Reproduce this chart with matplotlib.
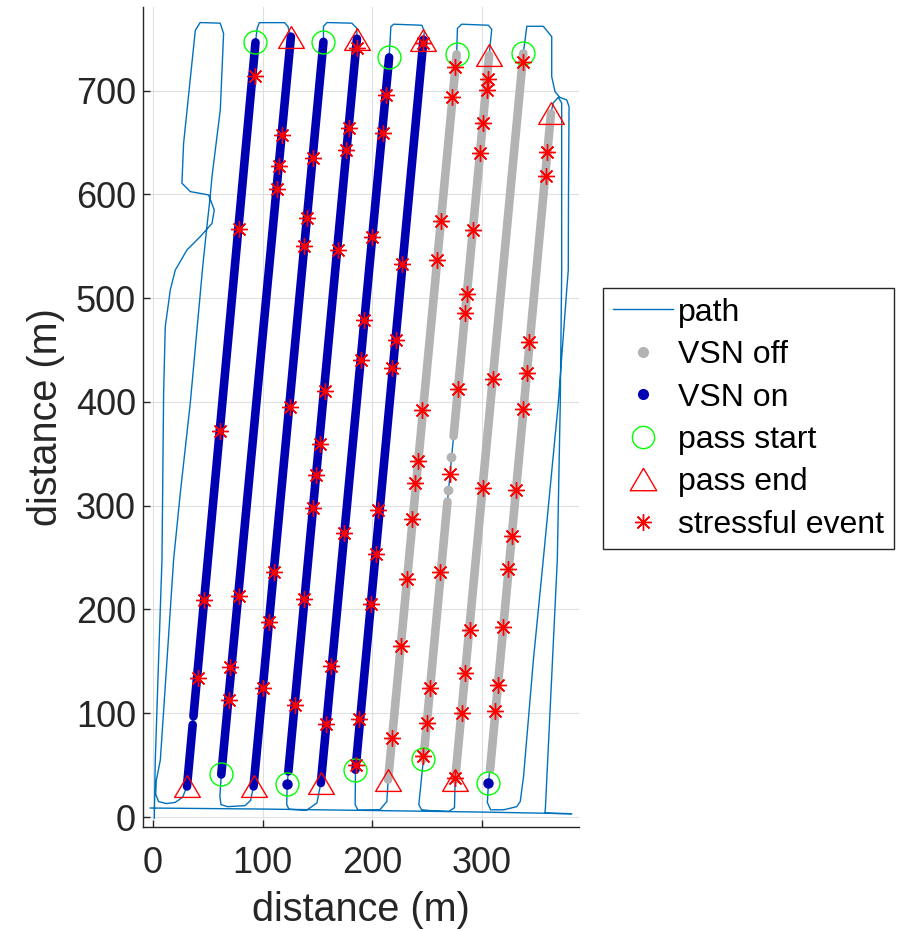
import matplotlib
matplotlib.use("Agg")
import matplotlib.pyplot as plt
from matplotlib.lines import Line2D

plt.rcParams['font.family'] = ['Liberation Sans', 'DejaVu Sans']

# vehicle track (m)
path_x = [1.2, 2.1, 5.1, 8.2, 9.7, 11.2, 15.8, 20.3, 31, 43.1, 53.8, 55.9, 50.7, 34, 26.4, 27.9, 38.6, 43, 61.3, 64.4,
          61.4, 53.8, 52.2, 49.2, 45.5, 34, 24.9, 18.8, 12.8, 6.7, 3, 2.5, 5, 12, 20, 27, 31,
          93.5, 95, 97, 120, 123, 125.8,
          62.3, 61, 62, 68, 84, 89, 91.7,
          155.5, 155.5, 158.8, 181.4, 186, 186,
          122.4, 122, 124, 140, 149.5, 153.1,
          215.4, 217, 219.6, 245.2, 247.5, 246.7,
          184.7, 184.4, 187, 207, 213.3, 214.5,
          277, 277.7, 281.6, 306, 309, 306.6,
          246.7, 242.5, 245, 255, 270, 275, 275.6,
          337.8, 341, 356, 363.7, 363.7, 366.7, 371, 377.4, 379.5,
          379, 378.8, 377.4, 369.7, 356, 347, 342.4, 338, 335, 331.8, 320, 308, 305, 306,
          363, 365, 369.7, 372.8, 372.8, 371.5, 368.8, 363, 358, 357.6, 370, 382,
          300, 200, 100, -2.5]
path_y = [-1, 55, 151.5, 248, 408.5, 472.6, 508, 527, 546.5, 559.3, 572, 585, 599.5, 602.7, 610.8, 649, 758, 765.6, 765, 755,
          681.6, 617, 598, 569, 532, 398.8, 312, 248, 151.5, 55, 35, 22, 15, 13, 14, 19, 29.5,
          746.5, 760, 765.5, 765.5, 762, 752,
          41, 20, 12, 10, 11, 16, 29.5,
          747, 762, 765.6, 765, 760, 750,
          31.8, 12, 7.5, 6.5, 13.5, 32.8,
          732, 761.6, 764, 763, 757, 749,
          45.6, 12, 6.5, 7, 15, 36,
          735, 760, 764, 763, 759, 734,
          56, 12, 7, 6, 5.5, 9, 36,
          736, 762, 762, 752, 713.5, 699, 693.6, 691, 684.6,
          600, 527, 508, 399, 248, 151.6, 94, 39, 15, 10, 7, 7, 14, 32.8,
          678, 688, 693.6, 688, 527, 399, 248, 120, 10, 3.8, 3.4, 3.2,
          4.8, 6.3, 7.7, 8.7]

# VSN off (grey) pass segments
off_x = [[214.5, 277], [246.7, 268.6], [274.2, 306.6], [275.6, 337.8], [307.5, 363]]
off_y = [[36, 735], [56, 304], [367, 734], [36, 736], [46, 678]]
off_dot_x = [269.3, 272.2]
off_dot_y = [315, 347]

# VSN on (blue) pass segments
on_x = [[31, 36.2], [36.9, 93.5], [62.3, 125.8], [91.7, 155.5], [123.5, 186], [153.1, 215.4], [184.7, 246.7]]
on_y = [[29.5, 89], [97, 746.5], [41, 752], [29.5, 747], [44, 750], [32.8, 732], [45.6, 749]]
on_dot_x = [122.4, 306]
on_dot_y = [31.8, 32.8]

# pass start / end
start_x = [93.5, 62.3, 155.5, 122.4, 215.4, 184.7, 277, 246.7, 337.8, 306]
start_y = [746.5, 41, 747, 31.8, 732, 45.6, 735, 56, 736, 32.8]
end_x = [31, 125.8, 91.7, 186, 153.1, 246.7, 214.5, 306.6, 275.6, 363]
end_y = [29.5, 752, 29.5, 750, 32.8, 749, 36, 734, 36, 678]

# stressful events
stress_x = [93.5, 78, 61.3, 46.8, 40.7,
            117.6, 114.5, 113, 78, 70.5, 69,
            145.8, 140.4, 138.2, 125.2, 110, 105.4, 100.8,
            186, 179.2, 176.2, 169.2, 157.1, 151.9, 148.9, 145.8, 138.2, 129.1,
            212.7, 209.7, 200.2, 192.6, 189.6, 173.8, 162.3, 158,
            246.7, 227.5, 221.5, 218.4, 205.7, 203.6, 199, 188.3, 185.3,
            275.6, 272.6, 262.5, 258.9, 245.2, 242.1, 239.1, 236.7, 231.5, 226, 218.4,
            306, 304.5, 301.4, 298.4, 292.3, 286.2, 284.7, 278.6, 271, 261.9, 252.8, 249.8, 246.7,
            337.3, 310.5, 301.4, 289.2, 284.7, 281.7, 275.6,
            359.7, 358.5, 343.3, 340.9, 337.8, 331.2, 327.2, 323.6, 319, 315, 312]
stress_y = [714, 566.5, 372.4, 208.7, 134,
            657, 627, 605, 213, 144.5, 113,
            635, 577, 550, 395, 236, 188, 124,
            741, 664, 643, 546.5, 410.5, 359, 330, 298, 210, 108,
            696, 659, 559, 479, 440, 274, 146, 90,
            746, 533, 460, 433, 296, 253, 205.5, 94, 50.4,
            723, 694, 574, 537, 392, 343, 322, 287, 229, 165, 76,
            711, 701, 669, 640, 566, 504, 486, 412, 331, 236, 124, 91, 59,
            728, 422, 317, 180, 139, 100, 37.6,
            641, 618, 458, 428, 393, 315, 271, 239, 183, 127, 102]

path_col = '#0072bd'
off_col = '#b3b3b3'
on_col = '#0000b3'
ax_col = '#262626'
tri = [(0, 0.85), (-1, -0.85), (1, -0.85), (0, 0.85)]

fig = plt.figure(figsize=(9.04, 9.31), dpi=100)
ax = fig.add_axes([0.1582, 0.1117, 0.4823, 0.8808])

ax.plot(path_x, path_y, color=path_col, lw=1.0, zorder=2)
for xs, ys in zip(off_x, off_y):
    ax.plot(xs, ys, color=off_col, lw=6.2, solid_capstyle='round', zorder=3)
ax.plot(off_dot_x, off_dot_y, 'o', color=off_col, ms=6, zorder=3)
for xs, ys in zip(on_x, on_y):
    ax.plot(xs, ys, color=on_col, lw=6.2, solid_capstyle='round', zorder=4)
ax.plot(on_dot_x, on_dot_y, 'o', color=on_col, ms=6.5, zorder=4)
ax.plot(start_x, start_y, 'o', mfc='none', mec='#00ff00', mew=1.0, ms=16.5, zorder=5)
ax.plot(end_x, end_y, ls='none', marker=tri, mfc='none', mec='#ff0000', mew=1.0, ms=18.5, zorder=6)
ax.plot(stress_x, stress_y, ls='none', marker=(8, 2, 0), color='#ff0000', mew=1.0, ms=12, zorder=7)

ax.set_xlim(-9.1, 388.6)
ax.set_ylim(-9.6, 780.6)
ax.set_xticks([0, 100, 200, 300])
ax.set_yticks(range(0, 701, 100))
ax.grid(True, color='#dfdfdf', lw=0.8)
ax.set_axisbelow(True)
for s in ['top', 'right']:
    ax.spines[s].set_visible(False)
for s in ['left', 'bottom']:
    ax.spines[s].set_color(ax_col)
    ax.spines[s].set_linewidth(1.0)
ax.tick_params(direction='in', length=5.3, width=1.0, color=ax_col, labelcolor=ax_col, labelsize=26)
ax.tick_params(axis='x', pad=14)
ax.tick_params(axis='y', pad=5)
ax.set_xlabel('distance (m)', fontsize=28.5, color=ax_col, labelpad=7)
ax.set_ylabel('distance (m)', fontsize=28.5, color=ax_col, labelpad=8)

handles = [
    Line2D([], [], color=path_col, lw=1.0),
    Line2D([], [], ls='none', marker='o', color=off_col, ms=7),
    Line2D([], [], ls='none', marker='o', color=on_col, ms=7),
    Line2D([], [], ls='none', marker='o', mfc='none', mec='#00ff00', mew=1.0, ms=16),
    Line2D([], [], ls='none', marker=tri, mfc='none', mec='#ff0000', mew=1.0, ms=19),
    Line2D([], [], ls='none', marker=(8, 2, 0), color='#ff0000', mew=1.0, ms=12),
]
labels = ['path', 'VSN off', 'VSN on', 'pass start', 'pass end', 'stressful event']
leg = ax.legend(handles, labels, loc='upper left', bbox_to_anchor=(603 / 904, 1 - 288 / 931),
                bbox_transform=fig.transFigure, borderaxespad=0, fontsize=23, frameon=True,
                fancybox=False, edgecolor=ax_col, framealpha=1, handlelength=1.9,
                handletextpad=0.15, labelspacing=0.39, borderpad=0.3)
leg.get_frame().set_linewidth(1.0)
for t in leg.get_texts():
    t.set_color('#000000')

fig.savefig('out.png', dpi=100)
